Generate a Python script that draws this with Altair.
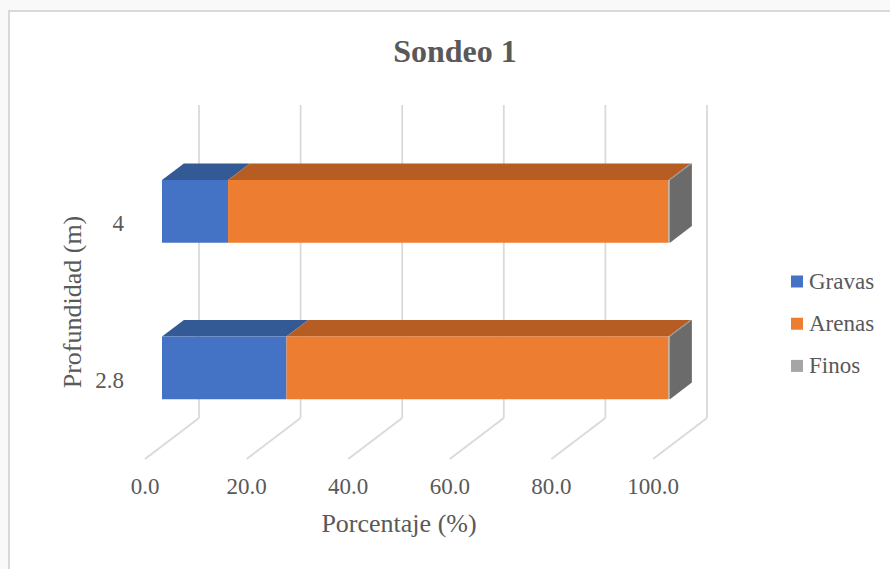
import altair as alt
import pandas as pd

# Sondeo 1: grain-size composition (%) at each sampled depth
DEPTHS = ["2.8", "4"]                 # rows, bottom to top
SERIES = ["Gravas", "Arenas", "Finos"]
GRAVAS = [24.5, 13.0]
ARENAS = [75.2, 86.7]
FINOS = [0.3, 0.3]
TICKS = [0, 20, 40, 60, 80, 100]

FRONT = ["#4472C4", "#ED7D31", "#A5A5A5"]
TOP = ["#345A96", "#B55D22", "#7D7D7D"]
SIDE = ["#33568F", "#B45F24", "#6B6B6B"]
GRID = "#D9D9D9"
TEXT = "#595959"
FONT = "Liberation Serif"

# oblique 3-D projection: a point (p %, h rows, depth d) is drawn at
# x = p + d*DX, y = h + d*DY  (d = 0 floor front, d = 1 back wall)
PX_PER_PCT = 5.08
ROW_PX = 156.3
DX = 54 / PX_PER_PCT
DY = 41 / ROW_PX
D_FRONT, D_BACK = 0.315, 0.72
HALF = 0.2
X_MAX = 100 + DX
Y_MAX = 2 + DY
W = round(X_MAX * PX_PER_PCT)
H = round(Y_MAX * ROW_PX)
LEFT, TOP_PAD = 145, 105

fX, fY = D_FRONT * DX, D_FRONT * DY
bX, bY = D_BACK * DX, D_BACK * DY

values = {"Gravas": GRAVAS, "Arenas": ARENAS, "Finos": FINOS}
front_color = dict(zip(SERIES, FRONT))
top_color = dict(zip(SERIES, TOP))
side_color = dict(zip(SERIES, SIDE))

xs = alt.Scale(domain=[0, X_MAX], nice=False, zero=False)
ys = alt.Scale(domain=[0, Y_MAX], nice=False, zero=False)


def X(f):
    return alt.X(f, type="quantitative", scale=xs, axis=None)


def Y(f):
    return alt.Y(f, type="quantitative", scale=ys, axis=None)


front_rows, top_faces, side_faces = [], [], []
for i, depth in enumerate(DEPTHS):
    c = i + 0.5
    lo, hi = c - HALF, c + HALF
    s = 0.0
    for j, name in enumerate(SERIES):
        e = s + values[name][i]
        front_rows.append(dict(serie=name, x=s + fX, x2=e + fX, y=lo + fY, y2=hi + fY))
        # top face (parallelogram) as an area between two piecewise-linear edges
        ax, bx_, cx, dx_ = s + fX, s + bX, e + bX, e + fX
        pts = []
        for xv in sorted({ax, bx_, cx, dx_}):
            low = hi + fY if xv <= dx_ else hi + fY + (xv - dx_) / (cx - dx_) * (bY - fY)
            up = hi + bY if xv >= bx_ else hi + fY + (xv - ax) / (bx_ - ax) * (bY - fY)
            pts.append(dict(x=xv, y=low, y2=up))
        top_faces.append((name, pd.DataFrame(pts)))
        if j == len(SERIES) - 1:
            # right-hand end face of the last segment
            side_faces.append((name, pd.DataFrame([
                dict(x=e + fX, y=lo + fY, y2=hi + fY),
                dict(x=e + bX, y=lo + bY, y2=hi + bY),
            ])))
        s = e

front_df = pd.DataFrame(front_rows)

grid_df = pd.DataFrame({"p": TICKS})
grid_df["xb"] = grid_df["p"] + DX
grid_df["yb0"] = DY
grid_df["yb1"] = 2 + DY
grid_df["y0"] = 0.0
grid_df["label"] = [f"{t:.1f}" for t in TICKS]

cat_df = pd.DataFrame({"depth": DEPTHS, "c": [i + 0.5 for i in range(len(DEPTHS))]})
one = pd.DataFrame({"k": [0]})

frame = alt.Chart(one).mark_rect(fill="white", stroke=GRID, strokeWidth=2).encode(
    x=alt.value(9 - LEFT), x2=alt.value(W + 300),
    y=alt.value(11 - TOP_PAD), y2=alt.value(H + 300),
)
wall = alt.Chart(grid_df).mark_rule(color=GRID, strokeWidth=1.75).encode(
    x=X("xb"), y=Y("yb0"), y2="yb1:Q",
)
floor = alt.Chart(grid_df).mark_rule(color=GRID, strokeWidth=1.75).encode(
    x=X("p"), x2="xb:Q", y=Y("y0"), y2="yb0:Q",
)

layers = [frame, wall, floor]

for name, df in top_faces:
    layers.append(
        alt.Chart(df).mark_area(color=top_color[name], opacity=1).encode(
            x=X("x"), y=Y("y"), y2="y2:Q",
        )
    )
for name, df in side_faces:
    layers.append(
        alt.Chart(df).mark_area(color=side_color[name], opacity=1).encode(
            x=X("x"), y=Y("y"), y2="y2:Q",
        )
    )
for name in SERIES:
    layers.append(
        alt.Chart(front_df[front_df.serie == name]).mark_rect(color=front_color[name]).encode(
            x=X("x"), x2="x2:Q", y=Y("y"), y2="y2:Q",
        )
    )

# legend: square swatch + label per series
for idx, name in enumerate(SERIES):
    yc = 281.5 + idx * 42.2 - TOP_PAD
    entry = pd.DataFrame({"serie": [name]})
    layers.append(
        alt.Chart(entry).mark_square(size=144, color=front_color[name], opacity=1).encode(
            x=alt.value(797 - LEFT), y=alt.value(yc)
        )
    )
    layers.append(
        alt.Chart(entry).mark_text(font=FONT, fontSize=23, color=TEXT, align="left", baseline="middle").encode(
            x=alt.value(809 - LEFT), y=alt.value(yc), text="serie:N"
        )
    )

tick_text = alt.Chart(grid_df).mark_text(font=FONT, fontSize=23, color=TEXT, baseline="middle").encode(
    x=X("p"), y=alt.value(487 - TOP_PAD), text="label:N",
)
cat_text = alt.Chart(cat_df).mark_text(font=FONT, fontSize=23, color=TEXT, align="right", baseline="middle").encode(
    x=alt.value(-21), y=Y("c"), text="depth:N",
)
x_title = alt.Chart(one).mark_text(font=FONT, fontSize=26, color=TEXT, baseline="middle", text="Porcentaje (%)").encode(
    x=alt.value(399 - LEFT), y=alt.value(524 - TOP_PAD)
)
y_title = alt.Chart(one).mark_text(font=FONT, fontSize=26, color=TEXT, baseline="middle", angle=270, text="Profundidad (m)").encode(
    x=alt.value(73 - LEFT), y=alt.value(302 - TOP_PAD)
)
title = alt.Chart(one).mark_text(font=FONT, fontSize=32, fontWeight="bold", color=TEXT, baseline="alphabetic", text="Sondeo 1").encode(
    x=alt.value(455 - LEFT), y=alt.value(62 - TOP_PAD)
)
layers += [tick_text, cat_text, x_title, y_title, title]

chart = (
    alt.layer(*layers)
    .properties(
        width=W, height=H,
        autosize=alt.AutoSizeParams(type="none"),
        padding={"left": LEFT, "top": TOP_PAD, "right": 890 - LEFT - W, "bottom": 569 - TOP_PAD - H},
        background="#F9F9F9",
    )
    .configure_view(stroke=None)
)

chart.save("out.html", embed_options={"renderer": "svg", "actions": False})
